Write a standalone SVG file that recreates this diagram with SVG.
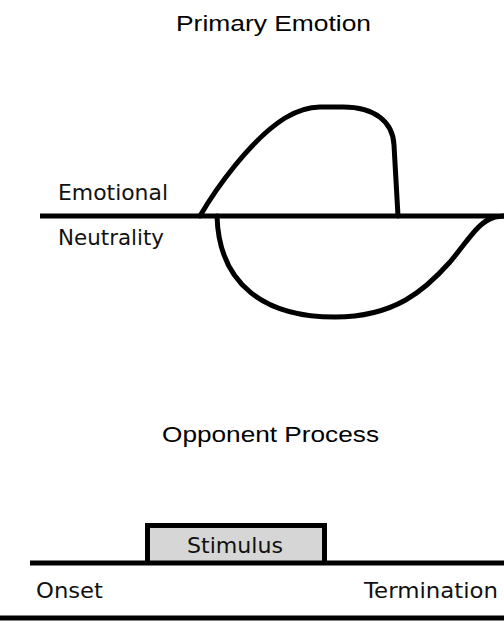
<svg xmlns="http://www.w3.org/2000/svg" width="504" height="626" viewBox="0 0 504 626">
  <style>
    .title { font-family: "Liberation Sans", Arial, sans-serif; font-size: 22px; fill: #000; }
    .label { font-family: "DejaVu Sans", "Liberation Sans", sans-serif; font-size: 21px; fill: #111; }
    .line { stroke: #000; stroke-width: 5; fill: none; }
    .curve { stroke: #000; stroke-width: 5; fill: none; stroke-linecap: round; stroke-linejoin: round; }
    .box { stroke: #000; stroke-width: 5; fill: #d6d6d6; }
  </style>
  <rect width="504" height="626" fill="#fff"/>

  <g id="title-primary">
    <text class="title" x="176" y="31" textLength="195" lengthAdjust="spacingAndGlyphs">Primary Emotion</text>
  </g>

  <g id="label-emotional">
    <text class="label" x="58" y="200" textLength="110" lengthAdjust="spacingAndGlyphs">Emotional</text>
  </g>
  <g id="label-neutrality">
    <text class="label" x="58" y="245" textLength="106" lengthAdjust="spacingAndGlyphs">Neutrality</text>
  </g>

  <g id="title-opponent">
    <text class="title" x="162" y="442" textLength="217" lengthAdjust="spacingAndGlyphs">Opponent Process</text>
  </g>

  <g id="stimulus">
    <path class="box" d="M147.5,563 V525.5 H324.5 V563"/>
    <text class="label" x="187" y="553" textLength="96" lengthAdjust="spacingAndGlyphs">Stimulus</text>
  </g>

  <g id="label-onset">
    <text class="label" x="36" y="598" textLength="67" lengthAdjust="spacingAndGlyphs">Onset</text>
  </g>
  <g id="label-termination">
    <text class="label" x="364" y="598" textLength="134" lengthAdjust="spacingAndGlyphs">Termination</text>
  </g>

  <g id="connectors">
    <line class="line" x1="40" y1="216" x2="504" y2="216"/>
    <path id="primary-curve" class="curve" d="M200,216 C215,190 250,140 285,118 C300,109 310,107 320,107 L343,107 C375,107 393,122 394,145 L398,216"/>
    <path id="opponent-curve" class="curve" d="M217,216 C219,285 265,317 335,317 C395,317 425,290 450,262 C470,238 478,222 495,217 L504,216"/>
    <line class="line" x1="30" y1="563" x2="504" y2="563"/>
    <line class="line" x1="0" y1="618" x2="504" y2="618"/>
  </g>
</svg>
